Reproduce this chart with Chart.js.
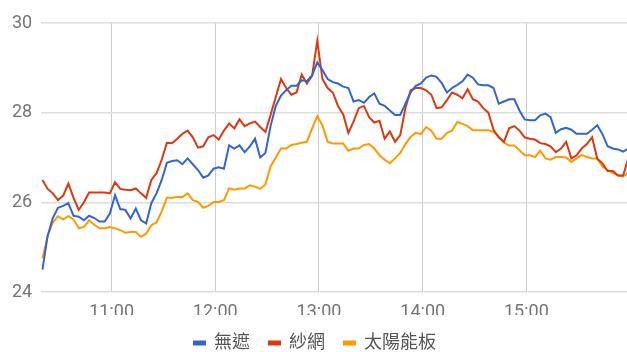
<!DOCTYPE html>
<html>
<head>
<meta charset="utf-8">
<script src="https://cdn.jsdelivr.net/npm/chart.js@4/dist/chart.umd.min.js"></script>
<style>
  html, body { margin: 0; padding: 0; background: #fff; }
  #wrap { width: 627px; height: 352px; }
</style>
</head>
<body>
<div id="wrap"><canvas id="tempChart"></canvas></div>
<script>
// --- readings, one every 3 minutes starting 10:20 ---
const startMinute = 620;   // 10:20
const stepMinutes = 3;

const seriesNames = ['無遮', '紗網', '太陽能板'];
const seriesColors = ['#3366cc', '#dc3912', '#ff9900'];

const openAir = [
  24.5, 25.25, 25.65, 25.88, 25.92, 25.98, 25.7, 25.68, 25.6, 25.7,
  25.65, 25.57, 25.57, 25.75, 26.16, 25.85, 25.83, 25.64, 25.86, 25.6,
  25.53, 25.98, 26.2, 26.5, 26.88, 26.92, 26.94, 26.85, 26.98, 26.85,
  26.72, 26.55, 26.6, 26.75, 26.78, 26.75, 27.27, 27.2, 27.27, 27.12,
  27.25, 27.42, 27.0, 27.1, 27.7, 28.15, 28.38, 28.5, 28.6, 28.6,
  28.72, 28.7, 28.83, 29.12, 28.95, 28.75, 28.68, 28.65, 28.58, 28.55,
  28.25, 28.28, 28.22, 28.35, 28.43, 28.2, 28.15, 28.05, 27.95, 27.95,
  28.2, 28.45, 28.6, 28.65, 28.78, 28.83, 28.8, 28.66, 28.45, 28.55,
  28.62, 28.7, 28.85, 28.78, 28.63, 28.61, 28.61, 28.55, 28.2, 28.25,
  28.3, 28.3, 28.05, 27.85, 27.83, 27.83, 27.94, 27.98, 27.9, 27.55,
  27.63, 27.66, 27.62, 27.53, 27.53, 27.53, 27.62, 27.72, 27.52, 27.25,
  27.2, 27.18, 27.13, 27.2
];

const shadeNet = [
  26.5, 26.3, 26.2, 26.05, 26.15, 26.42, 26.1, 25.83, 26.0, 26.22,
  26.22, 26.22, 26.22, 26.2, 26.45, 26.3, 26.28, 26.27, 26.31, 26.2,
  26.1, 26.5, 26.65, 26.95, 27.33, 27.32, 27.42, 27.53, 27.6, 27.45,
  27.22, 27.25, 27.45, 27.5, 27.4, 27.6, 27.76, 27.65, 27.85, 27.7,
  27.76, 27.8, 27.68, 27.57, 27.95, 28.35, 28.75, 28.55, 28.4, 28.45,
  28.85, 28.65, 28.82, 29.6, 28.75, 28.55, 28.45, 28.15, 27.96, 27.55,
  27.8, 28.1, 28.15, 27.9, 27.78, 27.82, 27.42, 27.58, 27.35, 27.5,
  28.1, 28.5, 28.55, 28.55, 28.5, 28.4, 28.1, 28.12, 28.28, 28.45,
  28.4, 28.32, 28.52, 28.3, 28.25, 28.1, 28.0, 27.62, 27.45, 27.35,
  27.65, 27.7, 27.6, 27.45, 27.42, 27.4, 27.32, 27.3, 27.25, 27.12,
  27.2, 27.35, 26.98, 27.05, 27.2, 27.3, 27.45, 26.97, 26.87, 26.7,
  26.7, 26.6, 26.6, 27.0
];

const solarPanel = [
  24.75, 25.25, 25.55, 25.69, 25.62, 25.69, 25.62, 25.42, 25.45, 25.6,
  25.5, 25.42, 25.42, 25.45, 25.42, 25.38, 25.32, 25.34, 25.34, 25.23,
  25.3, 25.49, 25.55, 25.8, 26.1, 26.1, 26.12, 26.12, 26.2, 26.05,
  26.01, 25.88, 25.92, 26.01, 26.01, 26.05, 26.31, 26.28, 26.31, 26.31,
  26.38, 26.35, 26.3, 26.4, 26.8, 27.0, 27.2, 27.2, 27.28, 27.3,
  27.33, 27.35, 27.65, 27.92, 27.72, 27.35, 27.31, 27.31, 27.31, 27.15,
  27.2, 27.2, 27.28, 27.3, 27.2, 27.05, 26.95, 26.87, 26.98, 27.1,
  27.3, 27.46, 27.55, 27.52, 27.68, 27.6, 27.42, 27.42, 27.55, 27.6,
  27.79, 27.75, 27.7, 27.61, 27.61, 27.61, 27.61, 27.57, 27.46, 27.33,
  27.27, 27.27, 27.16, 27.05, 27.05, 27.01, 27.15, 26.98, 26.95, 27.01,
  27.01, 27.0, 26.9, 26.98, 27.06, 27.01, 26.98, 26.98, 26.8, 26.72,
  26.66, 26.6, 26.58, 26.65
];

// x axis ticks (minutes since midnight) and their labels
const tickMinutes = [660, 720, 780, 840, 900];
const tickLabels = ['11:00', '12:00', '13:00', '14:00', '15:00'];
const yTicks = [24, 26, 28, 30];

const toPoints = values => values.map((v, i) => ({ x: startMinute + i * stepMinutes, y: v }));

const datasets = [openAir, shadeNet, solarPanel].map((values, i) => ({
  label: seriesNames[i],
  data: toPoints(values),
  borderColor: seriesColors[i],
  backgroundColor: seriesColors[i],
  borderWidth: 2,
  pointRadius: 0,
  tension: 0,
}));

// keep the legend's wide item spacing but give it a shorter box
const compactLegend = {
  id: 'compactLegend',
  beforeInit(chart) {
    const legend = chart.legend;
    const fit = legend.fit;
    legend.fit = function () {
      fit.call(this);
      this.height = 37;
    };
  },
};

const ctx = document.getElementById('tempChart').getContext('2d');
new Chart(ctx, {
  type: 'line',
  data: { datasets },
  plugins: [compactLegend],
  options: {
    responsive: true,
    maintainAspectRatio: false,
    animation: false,
    layout: { padding: { left: 3, right: 0, top: 23, bottom: 0 } },
    font: { family: 'Roboto' },
    scales: {
      x: {
        type: 'linear',
        min: 619.3,
        max: 958.2,
        afterBuildTicks: axis => { axis.ticks = tickMinutes.map(v => ({ value: v })); },
        afterFit: axis => { axis.height = 23; },
        ticks: {
          color: '#757575',
          font: { family: 'Roboto', size: 18 },
          padding: 10,
          maxRotation: 0,
          callback: value => tickLabels[tickMinutes.indexOf(value)],
        },
        grid: { color: '#cccccc', drawTicks: false },
        border: { display: false },
      },
      y: {
        min: 24,
        max: 30,
        afterBuildTicks: axis => { axis.ticks = yTicks.map(v => ({ value: v })); },
        ticks: {
          color: '#757575',
          font: { family: 'Roboto', size: 18 },
          padding: 9,
        },
        grid: { color: '#dddddd', drawTicks: false, lineWidth: 1.5 },
        border: { display: false },
      },
    },
    plugins: {
      legend: {
        position: 'bottom',
        labels: {
          color: '#555555',
          font: { family: 'Roboto, "Noto Sans CJK TC"', size: 18 },
          boxWidth: 11,
          boxHeight: 3,
          padding: 19,
        },
      },
      tooltip: { enabled: false },
    },
  },
});
</script>
</body>
</html>
